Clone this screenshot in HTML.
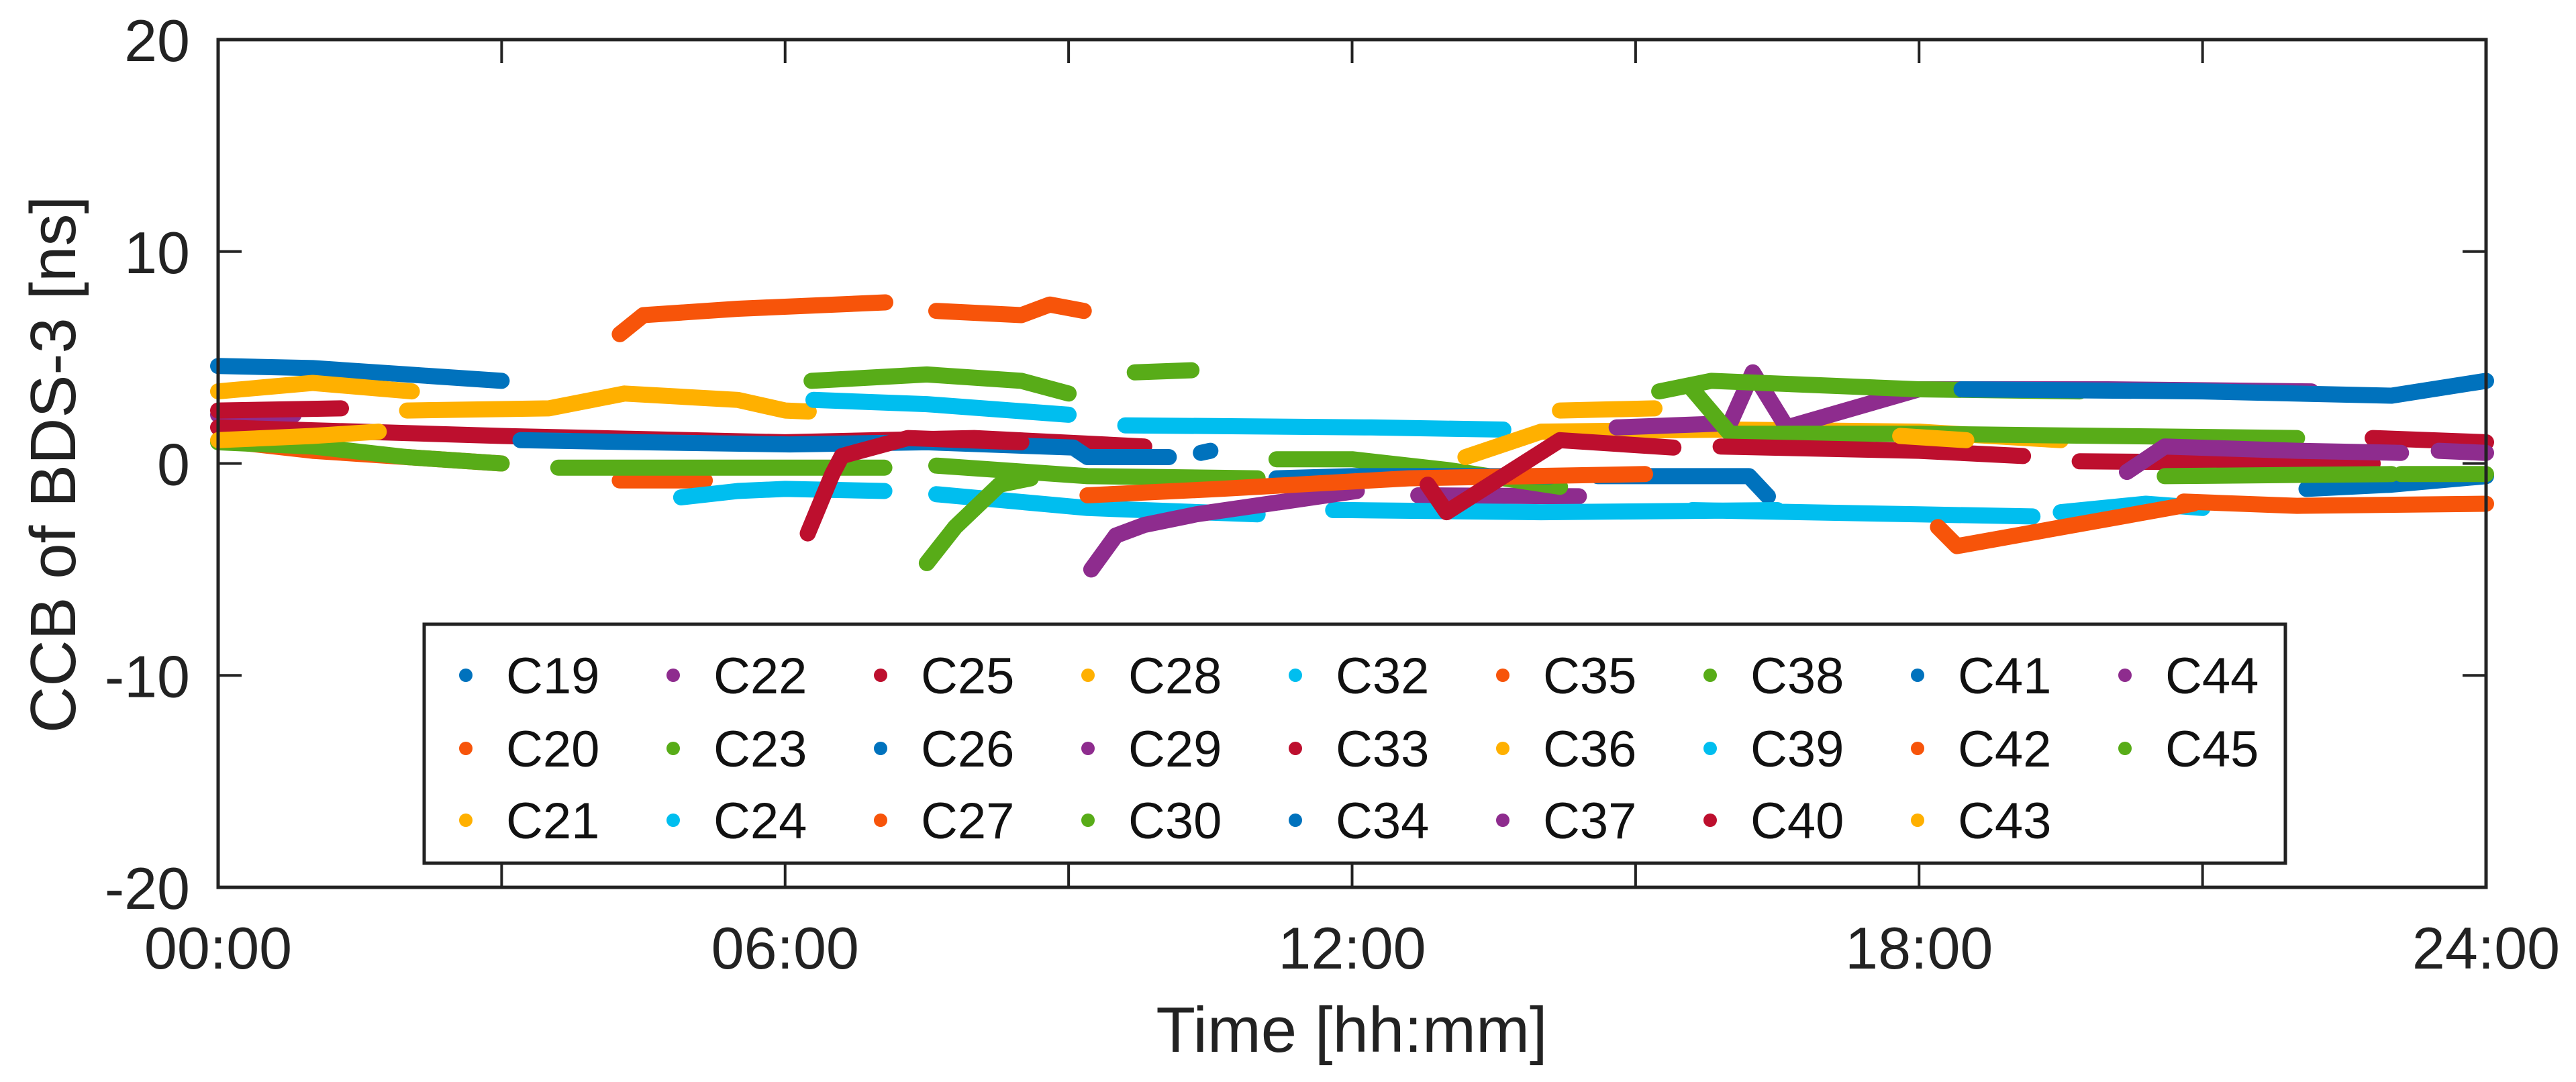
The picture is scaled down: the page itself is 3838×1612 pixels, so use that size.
<!DOCTYPE html>
<html><head><meta charset="utf-8"><style>
html,body{margin:0;padding:0;background:#fff;}
svg{display:block;font-family:"Liberation Sans",Arial,sans-serif;}
</style></head><body>
<svg id="chart" width="3838" height="1612" viewBox="0 0 3838 1612" xmlns="http://www.w3.org/2000/svg">
<rect width="3838" height="1612" fill="#fff"/>
<g id="plot"></g>
<g id="axes"></g>
<g id="legend"></g>
<text x="2014" y="1567" font-size="96" text-anchor="middle" fill="#222">Time [hh:mm]</text>
<text transform="translate(112,692) rotate(-90)" font-size="96" text-anchor="middle" fill="#222">CCB of BDS-3 [ns]</text>
</svg>
<script>
// ---- data (hours, ns); null = gap ----
const satNames = ["C19","C20","C21","C22","C23","C24","C25","C26","C27","C28","C29","C30","C32","C33","C34","C35","C36","C37","C38","C39","C40","C41","C42","C43","C44","C45"];
const c19 = [[0,4.6],[1,4.5],[2,4.2],[3,3.9]];
const c20 = [[0.2,1.0],[1,0.6],[2,0.3],[3,0.0],null,[4.25,-0.8],[5.15,-0.8]];
const c21 = [[0,3.4],[1,3.8],[2.05,3.4],null,[2.0,2.5],[3.5,2.6],[4.3,3.3],[5.5,3.0],[6.0,2.5],[6.25,2.45]];
const c22 = [[0,2.3],[0.8,2.3]];
const c23 = [[0,1.0],[1,0.8],[2,0.3],[3,0.0],null,[3.6,-0.2],[6.05,-0.2],null,[6.0,-0.2],[7.05,-0.2]];
const c24 = [[4.9,-1.6],[5.5,-1.3],[6.0,-1.2],[7.05,-1.3],null,[7.6,-1.45],[9.2,-2.1],[11.0,-2.4],null,[11.8,-2.2],[12,-2.2]];
const c25 = [[0,2.5],[1.3,2.6],null,[0,1.7],[3,1.3],[6,1.0],[8,1.2],[9.8,0.8]];
const c26 = [[3.2,1.1],[4.5,1.0],[6.05,0.9],[7.5,1.0],[9.05,0.75],[9.2,0.3],[10.06,0.3],null,[10.4,0.5],[10.5,0.6]];
const c27 = [[4.25,6.1],[4.5,7.0],[5.5,7.3],[7.06,7.6],null,[7.6,7.2],[8.5,7.0],[8.8,7.5],[9.16,7.2]];
const c28 = [[0,1.1],[1,1.3],[1.7,1.5]];
const c29 = [[9.24,-5.0],[9.5,-3.4],[9.8,-2.9],[10.35,-2.4],[12.05,-1.3],null,[12.7,-1.5],[14.4,-1.55]];
const c30 = [[6.28,3.9],[7.5,4.2],[8.5,3.9],[9.0,3.3],null,[9.7,4.3],[10.3,4.4],null,[7.5,-4.7],[7.8,-3.0],[8.27,-1.0],[8.6,-0.7],null,[7.6,-0.1],[9.2,-0.6],[11.0,-0.7],null,[11.2,0.2],[12,0.2],[13,-0.3],[14.2,-1.1]];
const c32 = [[6.3,3.0],[7.5,2.8],[9.0,2.3],null,[9.6,1.8],[12.2,1.7],[13.6,1.6]];
const c33 = [[6.24,-3.3],[6.5,-0.5],[6.6,0.35],[7.3,1.2],[8.5,1.0]];
const c34 = [[11.2,-0.7],[12,-0.6],[14.1,-0.6],null,[14.6,-0.6],[16.2,-0.6],[16.4,-1.55]];
const c35 = [[9.2,-1.5],[10.6,-1.2],[12.6,-0.7],[15.1,-0.5]];
const c36 = [[13.2,0.3],[14.0,1.5],[16,1.6],[18,1.5],[19.5,1.1],null,[14.2,2.5],[15.2,2.6]];
const c37 = [[14.8,1.7],[16.0,1.9],[16.24,4.3],[16.6,1.7],[18,3.5],[20,3.5],[22.15,3.4]];
const c38 = [[15.25,3.4],[15.8,3.9],[18,3.5],[19.7,3.4],null,[15.6,3.5],[16.0,1.4],[18,1.4],[20,1.3],[22,1.2]];
const c39 = [[12,-2.2],[14,-2.3],[16.5,-2.2],null,[15.6,-2.2],[18,-2.4],[19.2,-2.5],null,[19.5,-2.3],[20.4,-1.9],[21.0,-2.1]];
const c40 = [[12.8,-1.0],[13.0,-2.3],[14.2,1.1],[15.4,0.75],null,[15.9,0.8],[18,0.6],[19.1,0.35],null,[19.7,0.1],[22.8,0.0],null,[22.8,1.2],[24,1.0]];
const c41 = [[18.45,3.5],[21,3.4],[23,3.2],[24,3.9],null,[22.1,-1.2],[23,-1.0],[24,-0.6]];
const c42 = [[18.2,-3.0],[18.4,-3.9],[20.9,-1.9],null,[20.8,-1.8],[22,-2.0],[24,-1.9]];
const c43 = [[17.8,1.3],[18.5,1.1]];
const c44 = [[20.2,-0.4],[20.6,0.8],[22,0.6],[23.1,0.5],null,[23.5,0.6],[24,0.5]];
const c45 = [[20.6,-0.6],[23,-0.5],null,[23.1,-0.5],[24,-0.5]];
const seriesData = [c19,c20,c21,c22,c23,c24,c25,c26,c27,c28,c29,c30,c32,c33,c34,c35,c36,c37,c38,c39,c40,c41,c42,c43,c44,c45];
const xTicks = [0,3,6,9,12,15,18,21,24];
const xTickLabels = ["00:00","","06:00","","12:00","","18:00","","24:00"];
const yTicks = [-20,-10,0,10,20];
const yTickLabels = ["-20","-10","0","10","20"];

const palette = ["#0072BD","#F7540A","#FFB000","#8E2C8E","#58AC18","#00BEEF","#BD0F2E"];
const L=325, R=3704, T=59, B=1322;
const xMin=0,xMax=24,yMin=-20,yMax=20;
const xs = h => L + (h-xMin)/(xMax-xMin)*(R-L);
const ys = v => B - (v-yMin)/(yMax-yMin)*(B-T);
const NS="http://www.w3.org/2000/svg";
function mk(tag, attrs, parent){const e=document.createElementNS(NS,tag);for(const k in attrs)e.setAttribute(k,attrs[k]);parent.appendChild(e);return e;}

const plot=document.getElementById('plot');
seriesData.forEach((pts,i)=>{
  const color=palette[i%palette.length];
  let d="", start=true;
  pts.forEach(p=>{ if(p===null){start=true;return;} d+=(start?"M":"L")+xs(p[0]).toFixed(1)+" "+ys(p[1]).toFixed(1)+" "; start=false;});
  const el=mk('path',{d:d,fill:"none",stroke:color,"stroke-width":24,"stroke-linecap":"round","stroke-linejoin":"round"},plot);
  
  
});

const axes=document.getElementById('axes');
const box=mk('rect',{x:L,y:T,width:R-L,height:B-T,fill:"none",stroke:"#222","stroke-width":5},axes);


xTicks.forEach((t,i)=>{
  const x=xs(t);
  const a=mk('line',{x1:x,y1:B,x2:x,y2:B-35,stroke:"#222","stroke-width":4},axes);
  
  
  const b=mk('line',{x1:x,y1:T,x2:x,y2:T+35,stroke:"#222","stroke-width":4},axes);
  
  
  if(xTickLabels[i]){
    const tx=mk('text',{x:x,y:1443,"font-size":88,"text-anchor":"middle",fill:"#222"},axes);
    tx.textContent=xTickLabels[i];
    
    
  }
});
yTicks.forEach((t,i)=>{
  const y=ys(t);
  const a=mk('line',{x1:L,y1:y,x2:L+35,y2:y,stroke:"#222","stroke-width":4},axes);
  
  
  const b=mk('line',{x1:R,y1:y,x2:R-35,y2:y,stroke:"#222","stroke-width":4},axes);
  
  
  const tx=mk('text',{x:283,y:y+32,"font-size":88,"text-anchor":"end",fill:"#222"},axes);
  tx.textContent=yTickLabels[i];
  
  
});

const legend=document.getElementById('legend');
const lb=mk('rect',{x:632,y:930,width:2773,height:356,fill:"#fff",stroke:"#222","stroke-width":5},legend);


const rowY=[1006,1115,1222];
satNames.forEach((n,i)=>{
  const col=Math.floor(i/3), row=i%3;
  const cx=694+col*309, cy=rowY[row];
  const g=mk('g',{},legend);
  
  
  mk('circle',{cx:cx,cy:cy,r:10,fill:palette[i%palette.length]},g);
  const t=mk('text',{x:cx+60,y:cy+27,"font-size":76,fill:"#111"},g);
  t.textContent=n;
});
</script>
</body></html>
